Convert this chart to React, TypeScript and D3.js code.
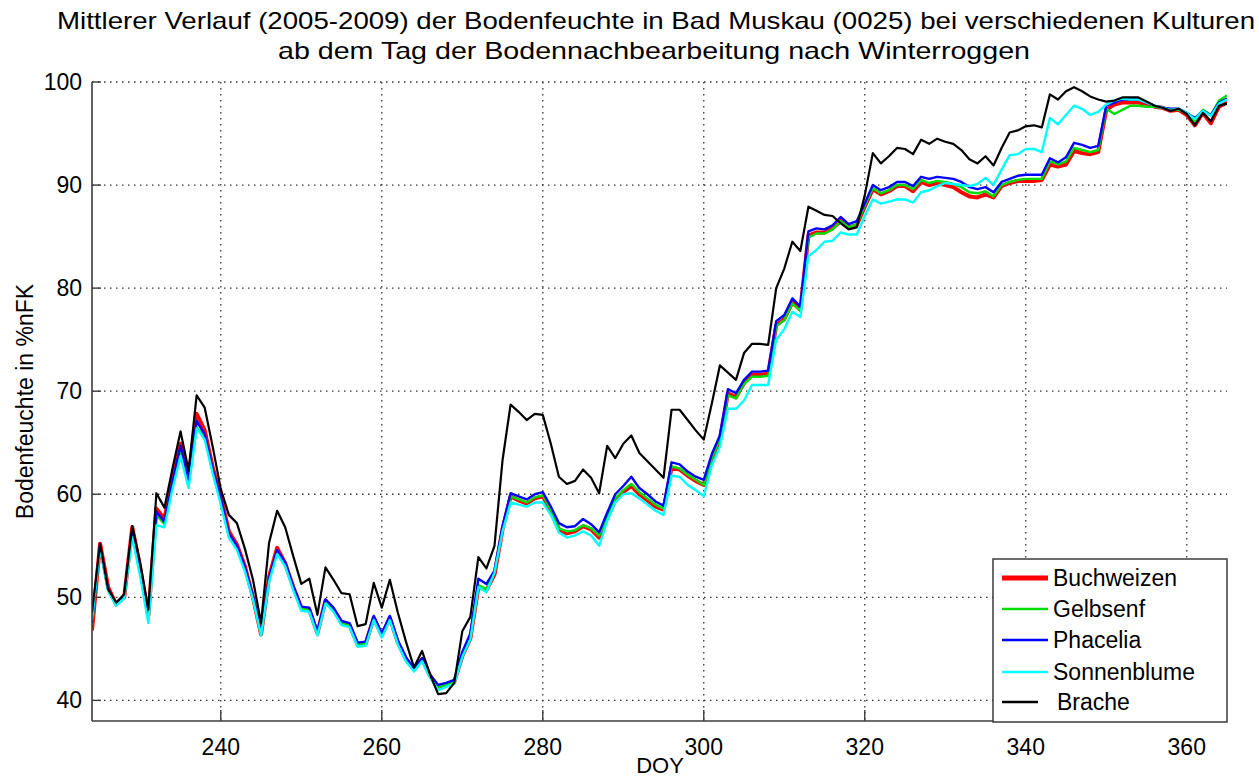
import React from "react";
import * as d3 from "d3";

const firstDay = 224;
const lastDay = 365;
const days: number[] = d3.range(firstDay, lastDay + 1);

const xTicks = [240, 260, 280, 300, 320, 340, 360];
const yTicks = [40, 50, 60, 70, 80, 90, 100];

const titleLines = [
  "Mittlerer Verlauf (2005-2009) der Bodenfeuchte in Bad Muskau (0025) bei verschiedenen Kulturen",
  "ab dem Tag der Bodennachbearbeitung nach Winterroggen",
];

const buchweizen = [
  46.8, 55.2, 51.0, 49.3, 50.0, 56.8, 52.8, 48.2, 58.6, 57.6,
  61.5, 64.9, 61.6, 67.8, 66.2, 62.6, 59.8, 56.4, 55.1, 53.0,
  50.0, 46.4, 52.0, 54.8, 53.3, 51.0, 49.0, 48.8, 46.5, 49.7,
  48.8, 47.6, 47.3, 45.4, 45.5, 48.0, 46.3, 48.0, 45.6, 44.0,
  43.0, 44.0, 42.4, 41.3, 41.5, 41.8, 44.3, 46.0, 51.0, 50.7,
  52.2, 56.6, 59.8, 59.4, 59.1, 59.6, 59.8, 58.4, 56.6, 56.2,
  56.4, 56.9, 56.6, 55.8, 57.7, 59.4, 60.2, 60.8, 60.0, 59.4,
  58.8, 58.5, 62.6, 62.4, 61.8, 61.3, 60.9, 63.4, 65.3, 69.8,
  69.4, 70.8, 71.6, 71.6, 71.7, 76.4, 77.0, 78.6, 77.9, 85.1,
  85.4, 85.4, 85.8, 86.5, 85.9, 86.1, 87.9, 89.6, 89.1, 89.4,
  89.9, 89.9, 89.4, 90.3, 90.0, 90.2, 90.0, 89.8, 89.3, 88.9,
  88.8, 89.1, 88.8, 89.9, 90.2, 90.4, 90.4, 90.4, 90.5, 92.0,
  91.8, 92.0, 93.3, 93.1, 93.0, 93.2, 97.3, 97.8, 98.0, 98.0,
  98.0, 97.9, 97.6, 97.5, 97.2, 97.3, 96.8, 95.8, 97.0, 96.0,
  97.6, 98.0,
];

const gelbsenf = [
  47.3, 54.8, 50.7, 49.3, 50.1, 56.2, 52.3, 47.9, 58.0, 57.1,
  61.0, 64.4, 61.0, 66.5, 65.5, 62.2, 59.3, 56.0, 54.8, 52.7,
  49.9, 46.4, 51.7, 54.4, 53.2, 50.9, 48.9, 48.8, 46.5, 49.6,
  48.8, 47.5, 47.3, 45.4, 45.5, 48.0, 46.3, 48.0, 45.6, 44.0,
  43.0, 44.0, 42.4, 41.3, 41.5, 41.8, 44.5, 46.2, 51.2, 50.8,
  52.4, 56.7, 59.8, 59.5, 59.2, 59.7, 59.9, 58.5, 56.7, 56.4,
  56.5, 57.0, 56.7, 56.0, 57.8, 59.6, 60.4, 61.0, 60.2, 59.6,
  59.0, 58.6, 62.7, 62.5, 61.9, 61.4, 60.9, 63.5, 65.4, 69.6,
  69.3, 70.7, 71.4, 71.4, 71.5, 76.3, 76.9, 78.5, 77.8, 84.9,
  85.3, 85.3, 85.7, 86.5, 85.9, 86.2, 88.0, 89.7, 89.2, 89.5,
  90.0, 90.0, 89.6, 90.5, 90.2, 90.4, 90.3, 90.1, 89.8, 89.3,
  89.2, 89.4, 88.9, 90.0, 90.3, 90.5, 90.6, 90.6, 90.6, 92.3,
  92.0, 92.3, 93.6, 93.4, 93.2, 93.4, 97.4, 96.9, 97.3, 97.7,
  97.7, 97.6, 97.6, 97.5, 97.3, 97.3, 97.0, 96.2, 97.3, 96.8,
  98.2, 98.7,
];

const phacelia = [
  47.5, 55.0, 50.8, 49.4, 50.2, 56.5, 52.5, 48.0, 58.3, 57.3,
  61.2, 64.7, 61.4, 67.1, 65.8, 62.4, 59.6, 56.2, 55.0, 52.9,
  50.1, 46.5, 51.9, 54.6, 53.4, 51.1, 49.1, 49.0, 46.7, 49.8,
  49.0, 47.7, 47.5, 45.6, 45.7, 48.2, 46.5, 48.2, 45.8, 44.2,
  43.1, 44.1, 42.5, 41.5, 41.7, 42.0, 44.7, 46.5, 51.8, 51.3,
  52.6, 56.9, 60.1, 59.8, 59.5, 60.0, 60.2, 58.8, 57.2, 56.8,
  56.9, 57.6, 57.1, 56.3, 58.2, 60.0, 60.8, 61.7, 60.6, 60.0,
  59.3, 58.9, 63.1, 62.9, 62.2, 61.7, 61.4, 63.9, 65.7, 70.2,
  69.8, 71.1, 71.9, 71.9, 72.0, 76.8, 77.4, 79.0, 78.2, 85.5,
  85.8, 85.7, 86.1, 86.9, 86.2, 86.5, 88.2, 90.0, 89.5, 89.8,
  90.3, 90.3, 89.9, 90.8, 90.6, 90.8, 90.7, 90.6, 90.3, 89.8,
  89.6, 89.8, 89.3, 90.3, 90.6, 90.9, 91.0, 91.0, 91.0, 92.6,
  92.2, 92.7, 94.1, 93.9, 93.6, 93.8, 97.7, 98.0, 98.3, 98.3,
  98.3, 98.0, 97.7, 97.5, 97.4, 97.4, 97.0, 96.5, 97.2, 96.8,
  98.0, 98.4,
];

const sonnenblume = [
  47.8, 54.8, 50.6, 49.2, 49.9, 55.8, 52.0, 47.5, 57.0, 56.8,
  60.5, 63.7, 60.6, 66.4, 65.3, 62.0, 59.0, 55.8, 54.6, 52.5,
  49.8, 46.3, 51.5, 54.2, 53.0, 50.7, 48.7, 48.6, 46.3, 49.4,
  48.6, 47.3, 47.1, 45.2, 45.3, 47.8, 46.1, 47.8, 45.4, 43.8,
  42.8, 43.8, 42.2, 41.0, 41.3, 41.6, 44.2, 45.9, 51.0, 50.5,
  52.4, 56.4, 59.2, 59.0, 58.8, 59.2, 59.2, 58.0, 56.3, 55.8,
  56.0, 56.4, 56.0, 55.0, 57.4, 59.2, 60.0, 60.1, 59.6, 59.0,
  58.4, 58.0, 61.8, 61.7, 60.9, 60.4, 59.8, 62.8, 64.6, 68.3,
  68.3, 69.1, 70.6, 70.6, 70.6, 75.0, 76.0, 77.7, 77.2, 83.1,
  83.7, 84.5, 84.6, 85.4, 85.2, 85.2, 87.0, 88.6, 88.2, 88.4,
  88.6, 88.6, 88.3, 89.3, 89.5, 89.9, 90.2, 90.1, 90.0, 89.9,
  90.1, 90.7, 90.0, 91.5, 92.9, 93.0, 93.5, 93.5, 93.2, 96.5,
  95.9, 96.8, 97.7, 97.4, 96.8, 97.1, 97.8, 98.2, 98.4, 98.3,
  98.3, 98.0, 97.7, 97.5, 97.3, 97.4, 97.0, 96.4, 97.2, 96.7,
  97.9, 98.3,
];

const brache = [
  48.5, 55.2, 50.8, 49.5, 50.3, 56.9, 53.3, 48.8, 60.1, 58.7,
  62.5, 66.1, 62.3, 69.6, 68.4, 64.6, 60.5, 58.0, 57.2, 54.7,
  51.7, 47.5, 55.3, 58.4, 56.8, 54.0, 51.3, 51.8, 48.3, 52.9,
  51.7, 50.4, 50.3, 47.2, 47.4, 51.4, 49.0, 51.7, 48.5, 45.7,
  43.2, 44.8, 42.5, 40.6, 40.7, 41.7, 46.7, 48.1, 53.9, 52.8,
  55.0, 63.3, 68.7, 68.0, 67.2, 67.8, 67.7, 64.9, 61.7, 61.0,
  61.3, 62.4, 61.6, 60.1, 64.7, 63.5, 64.9, 65.7, 64.0, 63.2,
  62.4, 61.6, 68.2, 68.2, 67.2, 66.2, 65.3, 68.8, 72.5, 71.8,
  71.1, 73.7, 74.6, 74.6, 74.5, 80.0, 81.9, 84.5, 83.6, 87.9,
  87.5, 87.1, 87.0, 86.3, 85.7, 85.9, 89.0, 93.1, 92.1, 92.8,
  93.6, 93.5, 93.0, 94.4, 94.0, 94.5, 94.2, 94.0, 93.4, 92.5,
  92.1, 92.8, 91.9, 93.6, 95.1, 95.3, 95.7, 95.8, 95.6, 98.8,
  98.3, 99.1, 99.5, 99.1, 98.6, 98.3, 98.1, 98.2, 98.5, 98.5,
  98.5, 98.1, 97.7, 97.5, 97.2, 97.4, 96.9, 95.8, 97.0, 96.2,
  97.7, 97.9,
];

const seriesNames = ["Buchweizen", "Gelbsenf", "Phacelia", "Sonnenblume", "Brache"];
const seriesValues = [buchweizen, gelbsenf, phacelia, sonnenblume, brache];
const seriesColors = ["#ff0000", "#00dd00", "#0000ff", "#00ffff", "#000000"];
const seriesWidths = [4, 2.4, 2.4, 2.4, 2.2];

const FONT = "'Liberation Sans', Arial, Helvetica, sans-serif";

export default function App() {
  const W = 1259;
  const H = 779;
  const left = 92;
  const right = 1227;
  const top = 82;
  const bottom = 721;

  const x = d3.scaleLinear().domain([firstDay, lastDay]).range([left, right]);
  const y = d3.scaleLinear().domain([38, 100]).range([bottom, top]);

  const line = d3
    .line<number>()
    .x((_, i) => x(days[i]))
    .y((v) => y(v));

  const axisColor = "#3c3c3c";
  const gridColor = "#333";

  const legX = 993;
  const legY = 559;
  const legW = right - legX;
  const legH = bottom - legY + 1;
  const legRowY = [578, 609, 640, 672, 702];

  return (
    <div style={{ position: "absolute", left: 0, top: 0, width: W, height: H, background: "#fff" }}>
      <svg width={W} height={H} style={{ display: "block" }} fontFamily={FONT}>
        <rect x={0} y={0} width={W} height={H} fill="#fff" />
        {/* title */}
        <text x={656} y={29} fontSize={24} textAnchor="middle" textLength={1198} lengthAdjust="spacingAndGlyphs">
          {titleLines[0]}
        </text>
        <text x={654} y={59} fontSize={24} textAnchor="middle" textLength={752} lengthAdjust="spacingAndGlyphs">
          {titleLines[1]}
        </text>

        {/* grid */}
        {yTicks.map((t) => (
          <line key={"gy" + t} x1={left} x2={right} y1={y(t)} y2={y(t)} stroke={gridColor} strokeWidth={1.3} strokeDasharray="1.5,4.5" />
        ))}
        {xTicks.map((t) => (
          <line key={"gx" + t} x1={x(t)} x2={x(t)} y1={top} y2={bottom} stroke={gridColor} strokeWidth={1.3} strokeDasharray="1.5,4.5" />
        ))}

        {/* series */}
        <defs>
          <clipPath id="plotclip">
            <rect x={left} y={top - 5} width={right - left} height={bottom - top + 5} />
          </clipPath>
        </defs>
        <g clipPath="url(#plotclip)">
          {seriesValues.map((vals, i) => (
            <path
              key={seriesNames[i]}
              d={line(vals) || ""}
              fill="none"
              stroke={seriesColors[i]}
              strokeWidth={seriesWidths[i]}
              strokeLinejoin="round"
            />
          ))}
        </g>

        {/* axes */}
        <line x1={left} x2={left} y1={top} y2={bottom} stroke={axisColor} strokeWidth={1.6} />
        <line x1={left} x2={right} y1={bottom} y2={bottom} stroke={axisColor} strokeWidth={1.6} />
        {yTicks.map((t) => (
          <g key={"ty" + t}>
            <line x1={left} x2={left + 9} y1={y(t)} y2={y(t)} stroke={axisColor} strokeWidth={1.4} />
            <text x={left - 10} y={y(t) + 8} fontSize={23} textAnchor="end">
              {t}
            </text>
          </g>
        ))}
        {xTicks.map((t) => (
          <g key={"tx" + t}>
            <line x1={x(t)} x2={x(t)} y1={bottom} y2={bottom - 11} stroke={axisColor} strokeWidth={1.4} />
            <text x={x(t)} y={755} fontSize={23} textAnchor="middle">
              {t}
            </text>
          </g>
        ))}

        {/* axis labels */}
        <text x={660} y={773} fontSize={22} textAnchor="middle">
          DOY
        </text>
        <text transform={`translate(33, ${(top + bottom) / 2}) rotate(-90)`} fontSize={23} textAnchor="middle">
          Bodenfeuchte in %nFK
        </text>

        {/* legend */}
        <rect x={legX} y={legY} width={legW} height={legH} fill="#fff" stroke={axisColor} strokeWidth={1.5} />
        {seriesNames.map((name, i) => (
          <g key={"leg" + name}>
            <line
              x1={1002}
              x2={i === 4 ? 1038 : 1048}
              y1={legRowY[i]}
              y2={legRowY[i]}
              stroke={seriesColors[i]}
              strokeWidth={i === 0 ? 5 : 2.4}
            />
            <text x={i === 4 ? 1057 : 1053} y={legRowY[i] + 8} fontSize={23}>
              {name}
            </text>
          </g>
        ))}
      </svg>
    </div>
  );
}
